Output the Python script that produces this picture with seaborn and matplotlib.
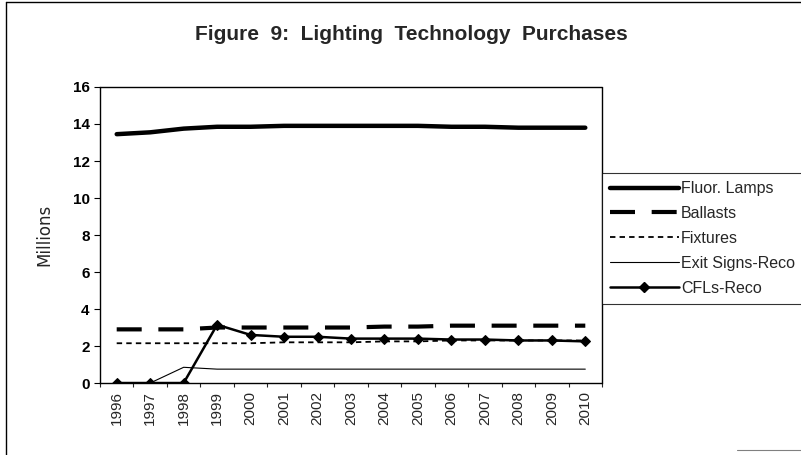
import pandas as pd
import matplotlib.pyplot as plt
import seaborn as sns
from matplotlib.lines import Line2D

years = [str(y) for y in range(1996, 2011)]
fluor_lamps = [13.45, 13.55, 13.75, 13.85, 13.85, 13.9, 13.9, 13.9, 13.9, 13.9, 13.85, 13.85, 13.8, 13.8, 13.8]
ballasts = [2.9, 2.9, 2.9, 3.0, 3.0, 3.0, 3.0, 3.0, 3.05, 3.05, 3.1, 3.1, 3.1, 3.1, 3.1]
fixtures = [2.15, 2.15, 2.15, 2.15, 2.15, 2.2, 2.2, 2.2, 2.25, 2.25, 2.3, 2.3, 2.3, 2.3, 2.3]
exit_signs = [0.0, 0.0, 0.85, 0.75, 0.75, 0.75, 0.75, 0.75, 0.75, 0.75, 0.75, 0.75, 0.75, 0.75, 0.75]
cfls = [0.0, 0.0, 0.0, 3.15, 2.6, 2.5, 2.5, 2.4, 2.4, 2.4, 2.35, 2.35, 2.3, 2.3, 2.25]

series = {
    'Fluor. Lamps': fluor_lamps,
    'Ballasts': ballasts,
    'Fixtures': fixtures,
    'Exit Signs-Reco': exit_signs,
    'CFLs-Reco': cfls,
}
styles = {
    'Fluor. Lamps': dict(lw=3.2, ls='-'),
    'Ballasts': dict(lw=3.0, ls=(0, (6, 4))),
    'Fixtures': dict(lw=1.3, ls=(0, (3, 2.3))),
    'Exit Signs-Reco': dict(lw=0.8, ls='-'),
    'CFLs-Reco': dict(lw=1.8, ls='-', marker='D', ms=5),
}

sns.set_theme(style="white")
plt.rcParams['font.family'] = ['Liberation Sans', 'DejaVu Sans']

fig = plt.figure(figsize=(8.01, 4.55), dpi=100)
ax = fig.add_axes([0.1248, 0.1582, 0.6268, 0.6506])

x = list(range(len(years)))
handles = []
for name, vals in series.items():
    st = styles[name]
    df = pd.DataFrame({'x': x, 'y': vals})
    sns.lineplot(data=df, x='x', y='y', ax=ax, color='black', linewidth=st['lw'],
                 linestyle=st['ls'], marker=st.get('marker'), markersize=st.get('ms', 0),
                 markeredgecolor='black', legend=False)
    handles.append(Line2D([], [], color='black', lw=st['lw'], ls=st['ls'],
                          marker=st.get('marker'), markersize=st.get('ms', 0)))

ax.set_xlim(-0.27, 14.5)
ax.set_ylim(0, 16)
ax.set_yticks(range(0, 17, 2))
ax.set_xticks(x)
ax.set_xticklabels(years, rotation=90, fontsize=11)
ax.set_xticks([i + 0.5 for i in range(-1, 15)], minor=True)
ax.tick_params(axis='y', labelsize=11, length=4, width=0.8, direction='out', left=True, colors='black')
ax.tick_params(axis='x', which='major', length=0, pad=6)
ax.tick_params(axis='x', which='minor', length=3, width=0.8, direction='out', bottom=True)
for lab in ax.get_yticklabels():
    lab.set_fontweight('bold')
ax.set_xlabel('')
ax.set_ylabel('Millions', fontsize=12, labelpad=14, family=['DejaVu Sans'])
for sp in ax.spines.values():
    sp.set_visible(True)
    sp.set_color('black')
    sp.set_linewidth(1.0)
    sp.set_linestyle((0, (1, 1)))
ax.grid(False)

leg = ax.legend(handles, list(series.keys()), loc='upper left', bbox_to_anchor=(1.0, 0.709),
                frameon=True, fancybox=False, edgecolor='black', fontsize=11.5,
                handlelength=4.3, handletextpad=0.15, borderpad=0.5, labelspacing=0.62,
                borderaxespad=0)
leg.get_frame().set_linewidth(0.8)

fig.text(0.513, 0.925, 'Figure  9:  Lighting  Technology  Purchases', ha='center', va='center',
         fontsize=15, fontweight='bold')

fig.add_artist(Line2D([0.007, 0.007], [0.0, 0.995], color='black', lw=1.0))
fig.add_artist(Line2D([0.007, 1.0], [0.995, 0.995], color='black', lw=1.0))
fig.add_artist(Line2D([0.92, 1.0], [0.01, 0.01], color='gray', lw=0.8))

fig.savefig('out.png', dpi=100, facecolor='white')
